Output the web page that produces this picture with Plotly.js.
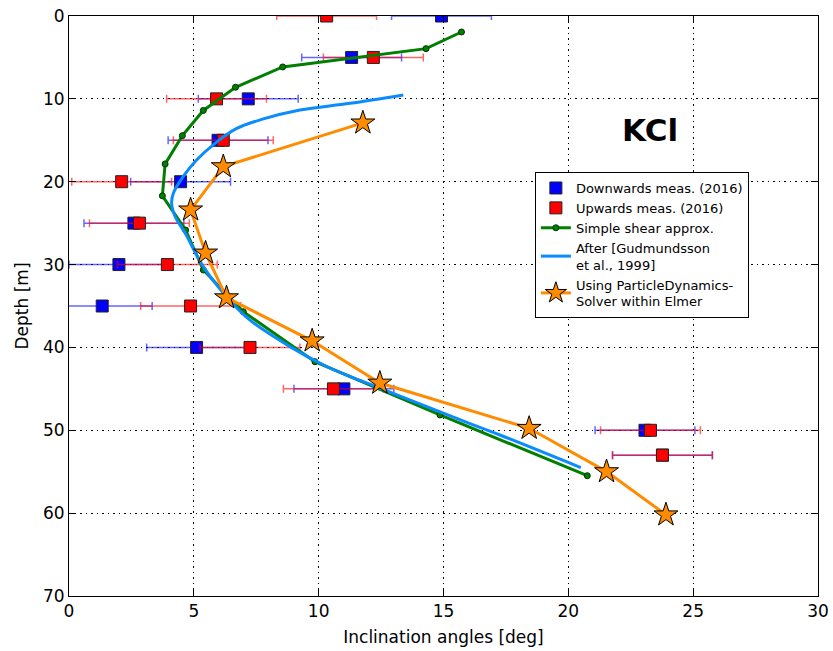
<!DOCTYPE html>
<html>
<head>
<meta charset="utf-8">
<script src="https://cdn.plot.ly/plotly-3.0.1.min.js"></script>
<style>
  html, body { margin: 0; padding: 0; background: #fff; }
  #chart { width: 833px; height: 651px; }
</style>
</head>
<body>
<div id="chart"></div>
<script>
// Borehole inclination profile, KCl site

// Downwards measurements (2016): depth [m], angle [deg], error [deg]
const downDepth = [0, 5, 10, 15, 20, 25, 30, 35, 40, 45, 50, 53];
const downAngle = [14.92, 11.32, 7.18, 5.97, 4.47, 2.60, 2.00, 1.33, 5.11, 11.01, 23.07, 23.77];
const downErr   = [2.0, 2.0, 2.0, 2.0, 2.0, 2.0, 2.0, 2.0, 2.0, 2.0, 2.0, 2.0];

// Upwards measurements (2016)
const upDepth = [0, 5, 10, 15, 20, 25, 30, 35, 40, 45, 50, 53];
const upAngle = [10.32, 12.19, 5.91, 6.18, 2.11, 2.82, 3.94, 4.87, 7.25, 10.59, 23.29, 23.77];
const upErr   = [2.0, 2.0, 2.0, 2.0, 2.0, 2.0, 2.0, 2.0, 2.0, 2.0, 2.0, 2.0];

// Simple shear approximation
const shearDepth = [1.93, 3.94, 6.15, 8.6, 11.4, 14.44, 17.86, 21.7, 25.83, 30.65, 35.69, 41.72, 48.15, 55.48];
const shearAngle = [15.72, 14.30, 8.56, 6.67, 5.38, 4.54, 3.85, 3.74, 4.67, 5.38, 6.98, 9.85, 14.86, 20.76];

// After Gudmundsson et al., 1999
const gudDepth = [9.53, 10.54, 11.34, 12.45, 13.6, 15.37, 17.38, 19.39, 21.4, 22.6, 24.2, 26.2, 30.25, 33.87, 36.7, 39.9, 42.3, 43.5, 44.9, 49.2, 50.57, 54.5];
const gudAngle = [13.39, 11.25, 9.25, 7.75, 6.7, 5.85, 5.11, 4.57, 4.18, 4.11, 4.25, 4.65, 5.38, 6.31, 7.25, 8.85, 10.32, 11.25, 12.45, 16.06, 17.26, 20.5];

// ParticleDynamics solver within Elmer
const pdDepth = [12.9, 18.18, 23.4, 28.6, 34.0, 39.2, 44.3, 49.76, 54.99, 60.2];
const pdAngle = [11.77, 6.18, 4.87, 5.47, 6.31, 9.74, 12.45, 18.43, 21.53, 23.91];

// Axis ticks
const xTicks = [0, 5, 10, 15, 20, 25, 30];
const yTicks = [0, 10, 20, 30, 40, 50, 60, 70];

const FONT = 'DejaVu Sans, sans-serif';
const GRID_DASH = '1.5px,4px';

const traces = [
  {
    x: downAngle, y: downDepth, type: 'scatter', mode: 'markers',
    name: 'Downwards meas. (2016)',
    marker: { symbol: 'square', size: 12, color: 'blue', line: { color: '#222', width: 1 } },
    error_x: { type: 'data', array: downErr, visible: true, color: 'rgba(0,0,255,0.6)', thickness: 1.5, width: 4 }
  },
  {
    x: upAngle, y: upDepth, type: 'scatter', mode: 'markers',
    name: 'Upwards meas. (2016)',
    marker: { symbol: 'square', size: 12, color: 'red', line: { color: '#222', width: 1 } },
    error_x: { type: 'data', array: upErr, visible: true, color: 'rgba(255,0,0,0.6)', thickness: 1.5, width: 4 }
  },
  {
    x: shearAngle, y: shearDepth, type: 'scatter', mode: 'lines+markers',
    name: 'Simple shear approx.',
    line: { color: '#007f00', width: 3 },
    marker: { symbol: 'circle', size: 6, color: '#007f00', line: { color: '#003300', width: 1 } }
  },
  {
    x: gudAngle, y: gudDepth, type: 'scatter', mode: 'lines',
    name: 'After [Gudmundsson<br>et al., 1999]',
    line: { color: '#0a8cff', width: 3, shape: 'spline', smoothing: 1 }
  },
  {
    x: pdAngle, y: pdDepth, type: 'scatter', mode: 'lines+markers',
    name: 'Using ParticleDynamics-<br>Solver within Elmer',
    line: { color: '#ff8c00', width: 3 },
    marker: { symbol: 'star', size: 18, color: '#ff8c00', line: { color: '#000', width: 1 } }
  }
];

const layout = {
  width: 833, height: 651,
  margin: { l: 69, r: 15, t: 16, b: 55 },
  paper_bgcolor: '#fff', plot_bgcolor: '#fff',
  font: { family: FONT, color: '#000', size: 17 },
  showlegend: true,
  legend: {
    x: 0.622, y: 0.731, xanchor: 'left', yanchor: 'top',
    bgcolor: '#fff', bordercolor: '#000', borderwidth: 1,
    font: { family: FONT, size: 13, color: '#000' },
    tracegroupgap: 0
  },
  xaxis: {
    range: [0, 30], tickvals: xTicks, ticktext: xTicks.map(String),
    showgrid: true, gridcolor: '#000', griddash: GRID_DASH, gridwidth: 1,
    showline: true, linecolor: '#000', linewidth: 1, mirror: 'ticks',
    ticks: 'inside', ticklen: 7, tickcolor: '#000',
    zeroline: false,
    tickfont: { family: FONT, size: 17 },
    title: { text: 'Inclination angles [deg]', font: { family: FONT, size: 17 }, standoff: 10 }
  },
  yaxis: {
    range: [70, 0], tickvals: yTicks, ticktext: yTicks.map(String),
    showgrid: true, gridcolor: '#000', griddash: GRID_DASH, gridwidth: 1,
    showline: true, linecolor: '#000', linewidth: 1, mirror: 'ticks',
    ticks: 'inside', ticklen: 7, tickcolor: '#000',
    zeroline: false,
    tickfont: { family: FONT, size: 17 },
    title: { text: 'Depth [m]', font: { family: FONT, size: 17 }, standoff: 10 }
  },
  annotations: [
    {
      text: '<b>KCl</b>', xref: 'paper', yref: 'paper', x: 0.776, y: 0.803,
      xanchor: 'center', yanchor: 'middle', showarrow: false,
      font: { family: FONT, size: 31, color: '#000' }
    }
  ]
};

Plotly.newPlot('chart', traces, layout, { displayModeBar: false, staticPlot: true });
</script>
</body>
</html>
